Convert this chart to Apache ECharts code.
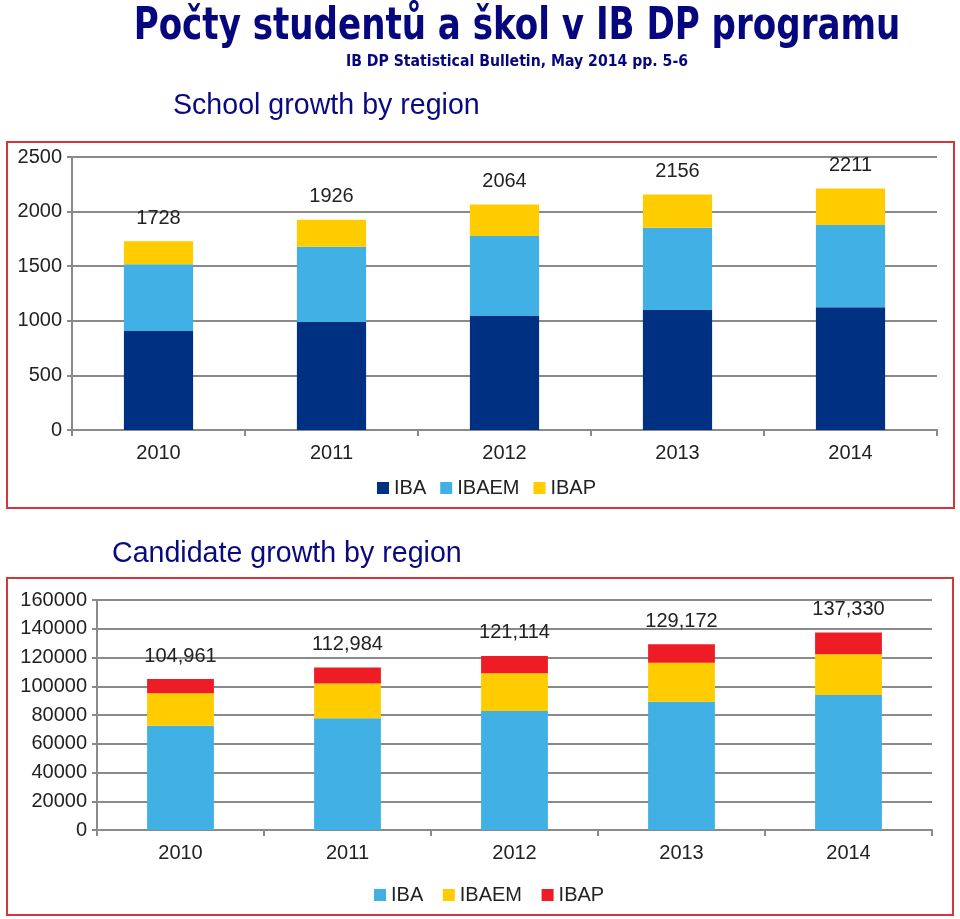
<!DOCTYPE html>
<html>
<head>
<meta charset="utf-8">
<script src="https://cdn.jsdelivr.net/npm/echarts@6/dist/echarts.min.js"></script>
<style>html,body{margin:0;padding:0;background:#fff;}#c{width:960px;height:919px;}</style>
</head>
<body>
<div id="c"></div>
<script>
// ---- data ----
const years = ['2010', '2011', '2012', '2013', '2014'];
const schoolIBA   = [906, 989, 1044, 1099, 1124];
const schoolIBAEM = [611, 690, 733, 754, 753];
const schoolIBAP  = [211, 247, 287, 303, 334];
const schoolTotal = [1728, 1926, 2064, 2156, 2211];
const candIBA   = [72500, 77700, 82800, 89300, 93900];
const candIBAEM = [22600, 24300, 26200, 27100, 28300];
const candIBAP  = [9861, 10984, 12114, 12772, 15130];
const candTotal = [104961, 112984, 121114, 129172, 137330];
const seriesNames = ['IBA', 'IBAEM', 'IBAP'];
const titleText = 'Počty studentů a škol v IB DP programu';
const subtitleText = 'IB DP Statistical Bulletin, May 2014 pp. 5-6';
const chart1Title = 'School growth by region';
const chart2Title = 'Candidate growth by region';

const NAVY = '#003082', SKY = '#41B0E4', GOLD = '#FFCC00', RED = '#EE1C25';
const FONT = 'Liberation Sans, Arial, sans-serif';
const axisCol = '#8a8a8a';

const chart = echarts.init(document.getElementById('c'), null, {renderer: 'canvas'});

function xAxisCfg(gi) {
  return {
    type: 'category', gridIndex: gi, data: years, boundaryGap: true,
    axisLine: {lineStyle: {color: axisCol, width: 2}},
    axisTick: {show: true, length: 6, lineStyle: {color: axisCol, width: 2}},
    axisLabel: {color: '#222', fontSize: 20, fontFamily: FONT, margin: 13}
  };
}
function yAxisCfg(gi, max, interval) {
  return {
    type: 'value', gridIndex: gi, min: 0, max: max, interval: interval,
    axisLine: {show: true, lineStyle: {color: axisCol, width: 2}},
    axisTick: {show: true, length: 5, lineStyle: {color: axisCol, width: 2}},
    axisLabel: {color: '#222', fontSize: 20, fontFamily: FONT, margin: 10,
                formatter: v => String(v)},
    splitLine: {show: true, lineStyle: {color: axisCol, width: 2}}
  };
}
function barSeries(name, data, color, gi, stack, totals, fmt) {
  const s = {
    name: name, type: 'bar', stack: stack, xAxisIndex: gi, yAxisIndex: gi,
    data: data, itemStyle: {color: color}, barWidth: '40%'
  };
  if (totals) {
    s.label = {
      show: true, position: 'top', distance: 13,
      color: '#222', fontSize: 20, fontFamily: FONT,
      formatter: p => fmt(totals[p.dataIndex])
    };
  }
  return s;
}

const option = {
  animation: false,
  backgroundColor: '#fff',
  grid: [
    {left: 72, right: 23, top: 157, height: 273, containLabel: false},
    {left: 97, right: 28, top: 600, height: 230, containLabel: false}
  ],
  xAxis: [xAxisCfg(0), xAxisCfg(1)],
  yAxis: [yAxisCfg(0, 2500, 500), yAxisCfg(1, 160000, 20000)],
  legend: [
    {
      data: [
        {name: 'IBA', itemStyle: {color: NAVY}},
        {name: 'IBAEM', itemStyle: {color: SKY}},
        {name: 'IBAP', itemStyle: {color: GOLD}}
      ],
      left: 377, top: 478, padding: 0, itemWidth: 12, itemHeight: 12, itemGap: 14, icon: 'rect',
      textStyle: {color: '#222', fontSize: 20, fontFamily: FONT},
      selectedMode: false
    },
    {
      data: [
        {name: 'IBA ', itemStyle: {color: SKY}},
        {name: 'IBAEM ', itemStyle: {color: GOLD}},
        {name: 'IBAP ', itemStyle: {color: RED}}
      ],
      left: 374, top: 885, padding: 0, itemWidth: 12, itemHeight: 12, itemGap: 14, icon: 'rect',
      textStyle: {color: '#222', fontSize: 20, fontFamily: FONT},
      selectedMode: false
    }
  ],
  series: [
    barSeries('IBA', schoolIBA, NAVY, 0, 's'),
    barSeries('IBAEM', schoolIBAEM, SKY, 0, 's'),
    barSeries('IBAP', schoolIBAP, GOLD, 0, 's', schoolTotal, v => String(v)),
    barSeries('IBA ', candIBA, SKY, 1, 'c'),
    barSeries('IBAEM ', candIBAEM, GOLD, 1, 'c'),
    barSeries('IBAP ', candIBAP, RED, 1, 'c', candTotal, v => v.toLocaleString('en-US'))
  ],
  graphic: [
    {type: 'rect', shape: {x: 7, y: 142, width: 947, height: 366},
     style: {fill: 'none', stroke: '#D5353D', lineWidth: 2}, z: 100},
    {type: 'rect', shape: {x: 7, y: 578, width: 946, height: 337},
     style: {fill: 'none', stroke: '#D5353D', lineWidth: 2}, z: 100},
    {type: 'text', x: 517, y: 28, scaleX: 0.775, scaleY: 1,
     style: {text: titleText, x: 0, y: 0, align: 'center', verticalAlign: 'middle',
       font: 'bold 44px "DejaVu Sans", Verdana, sans-serif', fill: '#06067E',
       shadowColor: 'rgba(0,0,0,0.45)', shadowOffsetX: 2, shadowOffsetY: 2, shadowBlur: 2}},
    {type: 'text', x: 517, y: 62, scaleX: 0.88, scaleY: 1,
     style: {text: subtitleText, x: 0, y: 0, align: 'center', verticalAlign: 'middle',
       font: 'bold 16px "DejaVu Sans", Verdana, sans-serif', fill: '#06067E',
       shadowColor: 'rgba(0,0,0,0.3)', shadowOffsetX: 1, shadowOffsetY: 1, shadowBlur: 1}},
    {type: 'text', x: 173, y: 106,
     style: {text: chart1Title, x: 0, y: 0, align: 'left', verticalAlign: 'middle',
       font: '28.6px "Liberation Sans", Arial, sans-serif', fill: '#0A0A80'}},
    {type: 'text', x: 112, y: 554,
     style: {text: chart2Title, x: 0, y: 0, align: 'left', verticalAlign: 'middle',
       font: '28.6px "Liberation Sans", Arial, sans-serif', fill: '#0A0A80'}}
  ]
};
chart.setOption(option);
</script>
</body>
</html>
